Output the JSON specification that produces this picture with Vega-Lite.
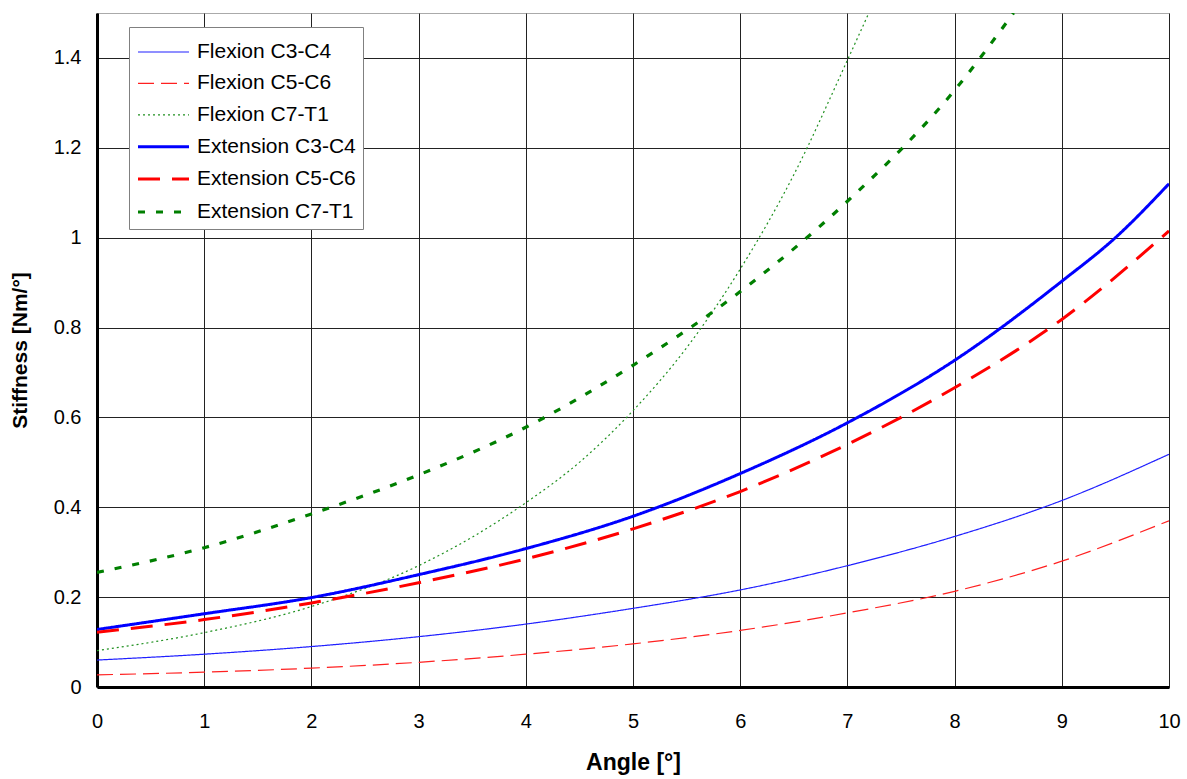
{
  "$schema": "https://vega.github.io/schema/vega-lite/v6.json",
  "width": 1072,
  "height": 674,
  "autosize": {"type": "none"},
  "padding": {"left": 97, "top": 13, "right": 18, "bottom": 92},
  "background": "white",
  "config": {
    "font": "Liberation Sans",
    "view": {"stroke": "#aaaaaa", "strokeWidth": 1}
  },
  "data": {
    "values": [
      {"series": "Flexion C3-C4", "angle": 0, "stiffness": 0.060},
      {"series": "Flexion C3-C4", "angle": 1, "stiffness": 0.073},
      {"series": "Flexion C3-C4", "angle": 2, "stiffness": 0.090},
      {"series": "Flexion C3-C4", "angle": 3, "stiffness": 0.112},
      {"series": "Flexion C3-C4", "angle": 4, "stiffness": 0.140},
      {"series": "Flexion C3-C4", "angle": 5, "stiffness": 0.175},
      {"series": "Flexion C3-C4", "angle": 6, "stiffness": 0.216},
      {"series": "Flexion C3-C4", "angle": 7, "stiffness": 0.270},
      {"series": "Flexion C3-C4", "angle": 8, "stiffness": 0.335},
      {"series": "Flexion C3-C4", "angle": 9, "stiffness": 0.415},
      {"series": "Flexion C3-C4", "angle": 10, "stiffness": 0.518},

      {"series": "Flexion C5-C6", "angle": 0, "stiffness": 0.027},
      {"series": "Flexion C5-C6", "angle": 1, "stiffness": 0.033},
      {"series": "Flexion C5-C6", "angle": 2, "stiffness": 0.042},
      {"series": "Flexion C5-C6", "angle": 3, "stiffness": 0.055},
      {"series": "Flexion C5-C6", "angle": 4, "stiffness": 0.073},
      {"series": "Flexion C5-C6", "angle": 5, "stiffness": 0.096},
      {"series": "Flexion C5-C6", "angle": 6, "stiffness": 0.126},
      {"series": "Flexion C5-C6", "angle": 7, "stiffness": 0.165},
      {"series": "Flexion C5-C6", "angle": 8, "stiffness": 0.213},
      {"series": "Flexion C5-C6", "angle": 9, "stiffness": 0.280},
      {"series": "Flexion C5-C6", "angle": 10, "stiffness": 0.370},

      {"series": "Flexion C7-T1", "angle": 0, "stiffness": 0.081},
      {"series": "Flexion C7-T1", "angle": 1, "stiffness": 0.121},
      {"series": "Flexion C7-T1", "angle": 2, "stiffness": 0.179},
      {"series": "Flexion C7-T1", "angle": 3, "stiffness": 0.270},
      {"series": "Flexion C7-T1", "angle": 4, "stiffness": 0.410},
      {"series": "Flexion C7-T1", "angle": 4.5, "stiffness": 0.500},
      {"series": "Flexion C7-T1", "angle": 5, "stiffness": 0.615},
      {"series": "Flexion C7-T1", "angle": 5.5, "stiffness": 0.755},
      {"series": "Flexion C7-T1", "angle": 6, "stiffness": 0.930},
      {"series": "Flexion C7-T1", "angle": 6.5, "stiffness": 1.140},
      {"series": "Flexion C7-T1", "angle": 7, "stiffness": 1.395},
      {"series": "Flexion C7-T1", "angle": 7.2, "stiffness": 1.500},

      {"series": "Extension C3-C4", "angle": 0, "stiffness": 0.128},
      {"series": "Extension C3-C4", "angle": 1, "stiffness": 0.163},
      {"series": "Extension C3-C4", "angle": 2, "stiffness": 0.199},
      {"series": "Extension C3-C4", "angle": 3, "stiffness": 0.250},
      {"series": "Extension C3-C4", "angle": 4, "stiffness": 0.308},
      {"series": "Extension C3-C4", "angle": 5, "stiffness": 0.380},
      {"series": "Extension C3-C4", "angle": 6, "stiffness": 0.475},
      {"series": "Extension C3-C4", "angle": 7, "stiffness": 0.588},
      {"series": "Extension C3-C4", "angle": 8, "stiffness": 0.727},
      {"series": "Extension C3-C4", "angle": 9, "stiffness": 0.903},
      {"series": "Extension C3-C4", "angle": 9.5, "stiffness": 1.000},
      {"series": "Extension C3-C4", "angle": 10, "stiffness": 1.120},

      {"series": "Extension C5-C6", "angle": 0, "stiffness": 0.122},
      {"series": "Extension C5-C6", "angle": 1, "stiffness": 0.150},
      {"series": "Extension C5-C6", "angle": 2, "stiffness": 0.187},
      {"series": "Extension C5-C6", "angle": 3, "stiffness": 0.232},
      {"series": "Extension C5-C6", "angle": 4, "stiffness": 0.285},
      {"series": "Extension C5-C6", "angle": 5, "stiffness": 0.352},
      {"series": "Extension C5-C6", "angle": 6, "stiffness": 0.435},
      {"series": "Extension C5-C6", "angle": 7, "stiffness": 0.540},
      {"series": "Extension C5-C6", "angle": 8, "stiffness": 0.666},
      {"series": "Extension C5-C6", "angle": 9, "stiffness": 0.818},
      {"series": "Extension C5-C6", "angle": 10, "stiffness": 1.015},

      {"series": "Extension C7-T1", "angle": 0, "stiffness": 0.255},
      {"series": "Extension C7-T1", "angle": 1, "stiffness": 0.310},
      {"series": "Extension C7-T1", "angle": 2, "stiffness": 0.385},
      {"series": "Extension C7-T1", "angle": 3, "stiffness": 0.472},
      {"series": "Extension C7-T1", "angle": 4, "stiffness": 0.578},
      {"series": "Extension C7-T1", "angle": 5, "stiffness": 0.716},
      {"series": "Extension C7-T1", "angle": 6, "stiffness": 0.880},
      {"series": "Extension C7-T1", "angle": 7, "stiffness": 1.081},
      {"series": "Extension C7-T1", "angle": 8, "stiffness": 1.328},
      {"series": "Extension C7-T1", "angle": 8.55, "stiffness": 1.500}
    ]
  },
  "mark": {"type": "line", "interpolate": "monotone", "clip": true},
  "encoding": {
    "x": {
      "field": "angle", "type": "quantitative",
      "scale": {"domain": [0, 10], "nice": false},
      "axis": {
        "title": "Angle [°]", "values": [0,1,2,3,4,5,6,7,8,9,10],
        "grid": true, "gridColor": "#222222", "gridWidth": 1, "gridOpacity": 1,
        "ticks": false, "domainColor": "#000000", "domainWidth": 3,
        "labelFontSize": 20, "labelColor": "#000000", "labelPadding": 24,
        "labelFlush": false,
        "titleFontSize": 23, "titleFontWeight": "bold", "titleColor": "#000000", "titlePadding": 20
      }
    },
    "y": {
      "field": "stiffness", "type": "quantitative",
      "scale": {"domain": [0, 1.5], "nice": false},
      "axis": {
        "title": "Stiffness [Nm/°]", "values": [0,0.2,0.4,0.6,0.8,1,1.2,1.4],
        "format": "~g",
        "grid": true, "gridColor": "#222222", "gridWidth": 1, "gridOpacity": 1,
        "ticks": false, "domainColor": "#000000", "domainWidth": 3,
        "labelFontSize": 20, "labelColor": "#000000", "labelPadding": 16,
        "titleFontSize": 21, "titleFontWeight": "bold", "titleColor": "#000000", "titlePadding": 23
      }
    },
    "color": {
      "field": "series", "type": "nominal",
      "scale": {
        "domain": ["Flexion C3-C4", "Flexion C5-C6", "Flexion C7-T1", "Extension C3-C4", "Extension C5-C6", "Extension C7-T1"],
        "range": ["#2020ff", "#ff2020", "#209020", "#0000ff", "#ff0000", "#007f00"]
      },
      "legend": {
        "title": null, "orient": "none", "legendX": 32, "legendY": 14,
        "symbolType": "M-1,0H2", "symbolSize": 1156, "labelFontSize": 21, "labelColor": "#000000",
        "labelOffset": 23, "rowPadding": 3.4, "padding": 7,
        "strokeColor": "#808080", "fillColor": "#ffffff", "cornerRadius": 0
      }
    },
    "strokeDash": {
      "field": "series", "type": "nominal",
      "scale": {
        "domain": ["Flexion C3-C4", "Flexion C5-C6", "Flexion C7-T1", "Extension C3-C4", "Extension C5-C6", "Extension C7-T1"],
        "range": [[1, 0], [16, 7], [2, 3], [1, 0], [22, 12], [7, 11]]
      }
    },
    "strokeWidth": {
      "field": "series", "type": "nominal",
      "scale": {
        "type": "ordinal",
        "domain": ["Flexion C3-C4", "Flexion C5-C6", "Flexion C7-T1", "Extension C3-C4", "Extension C5-C6", "Extension C7-T1"],
        "range": [1.2, 1.2, 1.2, 3, 3, 3.2]
      }
    }
  }
}
